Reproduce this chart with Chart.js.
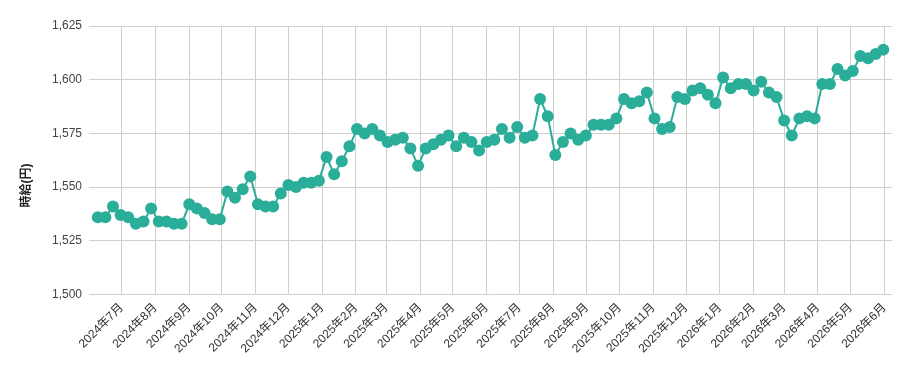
<!DOCTYPE html>
<html lang="ja">
<head>
<meta charset="utf-8">
<script src="https://cdn.jsdelivr.net/npm/chart.js@4"></script>
<style>
  html, body { margin: 0; padding: 0; background: #fff; }
  #wrap { width: 911px; height: 371px; }
</style>
</head>
<body>
<div id="wrap"><canvas id="wageChart"></canvas></div>
<script>
// weekly averages, first week starts on this date
const firstWeek = '2024-06-09';
const wages = [
  1536, 1536, 1541, 1537, 1536, 1533, 1534, 1540, 1534, 1534, 1533, 1533,
  1542, 1540, 1538, 1535, 1535, 1548, 1545, 1549, 1555, 1542, 1541, 1541,
  1547, 1551, 1550, 1552, 1552, 1553, 1564, 1556, 1562, 1569, 1577, 1575,
  1577, 1574, 1571, 1572, 1573, 1568, 1560, 1568, 1570, 1572, 1574, 1569,
  1573, 1571, 1567, 1571, 1572, 1577, 1573, 1578, 1573, 1574, 1591, 1583,
  1565, 1571, 1575, 1572, 1574, 1579, 1579, 1579, 1582, 1591, 1589, 1590,
  1594, 1582, 1577, 1578, 1592, 1591, 1595, 1596, 1593, 1589, 1601, 1596,
  1598, 1598, 1595, 1599, 1594, 1592, 1581, 1574, 1582, 1583, 1582, 1598,
  1598, 1605, 1602, 1604, 1611, 1610, 1612, 1614
];
const monthLabels = [
  '2024年7月', '2024年8月', '2024年9月', '2024年10月', '2024年11月', '2024年12月',
  '2025年1月', '2025年2月', '2025年3月', '2025年4月', '2025年5月', '2025年6月',
  '2025年7月', '2025年8月', '2025年9月', '2025年10月', '2025年11月', '2025年12月',
  '2026年1月', '2026年2月', '2026年3月', '2026年4月', '2026年5月', '2026年6月'
];
const yTicks = [1500, 1525, 1550, 1575, 1600, 1625];
const yTitle = '時給(円)';

const DAY = 86400000;
function dayNum(y, m, d) { return Date.UTC(y, m - 1, d) / DAY; }

const [fy, fm, fd] = firstWeek.split('-').map(Number);
const start = dayNum(fy, fm, fd);
const points = wages.map((v, i) => ({ x: start + i * 7, y: v }));
const monthTicks = monthLabels.map(s => {
  const m = s.match(/(\d+)年(\d+)月/);
  return dayNum(+m[1], +m[2], 1);
});

const FONT = "'Liberation Sans', Arial, 'Noto Sans CJK JP', sans-serif";
const teal = '#2aae9a';
const gridColor = '#cfcfcf';

// axis title sits at the middle of the whole canvas, not of the plot area
const sideTitle = {
  id: 'sideTitle',
  afterDraw(chart) {
    const ctx = chart.ctx;
    ctx.save();
    ctx.translate(27, chart.height / 2);
    ctx.rotate(-Math.PI / 2);
    ctx.font = 'bold 12px ' + FONT;
    ctx.fillStyle = '#222';
    ctx.textAlign = 'center';
    ctx.textBaseline = 'middle';
    ctx.fillText(yTitle, 0, 0);
    ctx.restore();
  }
};

new Chart(document.getElementById('wageChart'), {
  type: 'line',
  data: {
    datasets: [{
      data: points,
      borderColor: teal,
      backgroundColor: teal,
      borderWidth: 2,
      pointRadius: 6,
      pointHoverRadius: 6,
      pointBorderWidth: 0,
      tension: 0
    }]
  },
  plugins: [sideTitle],
  options: {
    responsive: true,
    maintainAspectRatio: false,
    animation: false,
    layout: { padding: { top: 26, right: 19, bottom: 9, left: 45 } },
    plugins: { legend: { display: false }, tooltip: { enabled: false } },
    scales: {
      x: {
        type: 'linear',
        min: start - 8,
        max: points[points.length - 1].x + 8,
        afterBuildTicks: (scale) => { scale.ticks = monthTicks.map(v => ({ value: v })); },
        grid: { color: gridColor, drawTicks: false },
        border: { display: false },
        ticks: {
          autoSkip: false,
          maxRotation: 45,
          minRotation: 45,
          padding: 6,
          color: '#333',
          font: { family: FONT, size: 12 },
          callback: (v) => {
            const i = monthTicks.indexOf(v);
            return i >= 0 ? monthLabels[i] : '';
          }
        }
      },
      y: {
        min: yTicks[0],
        max: yTicks[yTicks.length - 1],
        afterBuildTicks: (scale) => { scale.ticks = yTicks.map(v => ({ value: v })); },
        grid: { color: gridColor, drawTicks: false },
        border: { display: false },
        ticks: {
          padding: 7,
          color: '#444',
          font: { family: FONT, size: 12 },
          callback: (v) => v.toLocaleString('en-US')
        }
      }
    }
  }
});
</script>
</body>
</html>
